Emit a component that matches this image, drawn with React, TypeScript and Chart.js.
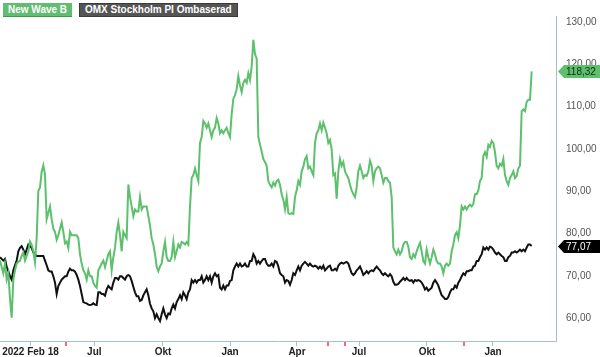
import React, { useEffect, useRef } from "react";
import { Chart, registerables } from "chart.js";

Chart.register(...registerables);

// Sample index along the time axis (each sample ~1.5 trading days)
const seriesNames = ["New Wave B", "OMX Stockholm PI Ombaserad"];

const newWaveB = [
  73.6, 72.1, 70.6, 72.9, 69.1, 70.6, 64.6, 60.1, 69.1, 71.3,
  72.9, 73.3, 73.6, 74.7, 75.5, 73.6, 74.7, 75.8, 78.1, 77.4,
  75.8, 73.2, 78.9, 90.1, 90.9, 94.6, 96.1, 93.9, 83.4, 84.9,
  86.4, 83.4, 81.1, 80.4, 78.5, 79.6, 81.1, 82.6, 80.4, 77.7,
  78.1, 76.6, 80.4, 79.6, 79.6, 79.6, 79.6, 78.9, 75.1, 72.9,
  71.3, 70.6, 69.1, 71.3, 69.9, 69.9, 68.4, 67.6, 67.2, 71.3,
  72.1, 72.9, 73.6, 72.1, 73.6, 75.1, 75.8, 71.3, 74.4, 76.6,
  80.4, 82.6, 79.6, 75.8, 80.4, 79.6, 78.9, 91.6, 88.6, 86.4,
  84.1, 85.7, 85.2, 85.2, 88.6, 85.7, 86.4, 86.4, 86.4, 84.1,
  81.9, 78.9, 77.4, 75.1, 72.2, 71.1, 72.2, 72.9, 75.8, 78.0,
  74.4, 73.5, 73.5, 74.4, 78.0, 74.4, 75.8, 77.4, 76.7, 78.0,
  77.8, 77.4, 78.0, 77.4, 86.4, 93.1, 93.8, 95.4, 93.8, 92.4,
  101.4, 102.8, 106.6, 106.0, 105.0, 106.0, 104.4, 102.8, 104.4, 105.0,
  107.3, 106.0, 103.7, 104.4, 103.7, 104.4, 105.0, 103.7, 102.8, 108.2,
  111.8, 112.7, 114.1, 117.2, 115.0, 113.4, 115.6, 116.3, 115.6, 117.9,
  116.3, 119.5, 125.8, 122.4, 121.3, 102.8, 101.0, 99.4, 97.6, 96.9,
  96.0, 92.4, 91.5, 90.9, 92.0, 91.3, 92.4, 92.7, 91.5, 89.3,
  88.0, 85.7, 88.6, 84.8, 84.6, 84.8, 84.6, 88.6, 90.2, 92.4,
  91.5, 94.7, 95.8, 97.6, 98.3, 95.4, 95.8, 94.7, 93.8, 101.4,
  103.7, 104.4, 106.0, 104.4, 106.2, 105.0, 103.7, 101.4, 102.1, 99.9,
  93.8, 94.2, 88.2, 94.7, 97.6, 96.0, 96.9, 94.7, 93.8, 93.1,
  91.5, 90.2, 89.3, 88.6, 90.9, 94.7, 96.0, 94.7, 93.1, 93.8,
  93.6, 94.7, 97.2, 96.0, 92.4, 94.7, 95.4, 95.8, 95.4, 93.8,
  92.0, 93.1, 93.1, 92.4, 92.0, 88.6, 76.7, 75.8, 75.1, 76.2,
  75.1, 75.8, 77.4, 78.0, 78.0, 76.9, 74.4, 74.0, 75.1, 74.4,
  75.8, 76.9, 77.8, 75.8, 73.5, 72.9, 76.2, 74.4, 72.9, 74.4,
  76.2, 75.1, 73.5, 72.9, 72.9, 72.2, 70.6, 72.4, 72.9, 72.4,
  72.9, 75.8, 77.4, 79.6, 80.3, 78.9, 81.9, 86.4, 85.7, 86.4,
  85.7, 86.4, 86.8, 86.4, 87.0, 89.3, 89.3, 90.2, 92.4, 93.1,
  98.3, 99.2, 98.1, 101.0, 100.5, 101.9, 101.4, 99.2, 96.0, 95.4,
  96.5, 96.0, 97.6, 93.8, 92.4, 91.5, 93.1, 93.8, 94.7, 93.1,
  93.6, 95.4, 96.0, 108.9, 109.3, 108.9, 111.1, 111.6, 111.6, 118.32,
];

const omxPI = [
  74.4, 74.0, 73.6, 74.0, 72.1, 71.1, 69.9, 69.1, 71.3, 72.5,
  73.6, 75.8, 76.6, 77.0, 76.2, 75.1, 76.2, 77.4, 77.0, 76.6,
  75.5, 75.1, 74.7, 74.7, 74.7, 74.7, 74.7, 73.6, 72.5, 71.3,
  71.0, 71.0, 69.9, 68.4, 65.7, 67.6, 68.4, 69.1, 69.5, 69.9,
  69.9, 71.0, 71.7, 71.3, 71.3, 71.0, 70.2, 69.1, 67.6, 65.7,
  63.8, 63.6, 63.5, 63.2, 63.1, 63.2, 63.5, 63.2, 63.1, 66.1,
  66.1, 65.7, 65.7, 65.3, 66.8, 67.6, 67.2, 66.8, 68.4, 69.5,
  69.5, 69.1, 69.9, 69.9, 69.5, 69.1, 69.9, 70.2, 69.9, 68.8,
  67.4, 66.1, 65.2, 65.2, 64.1, 64.3, 65.4, 66.1, 66.8, 65.4,
  63.4, 62.3, 61.6, 60.0, 60.9, 60.0, 59.3, 60.9, 62.3, 60.9,
  60.0, 61.1, 60.9, 62.3, 63.2, 62.3, 63.8, 64.5, 65.4, 64.5,
  66.1, 65.4, 64.5, 66.1, 66.8, 69.0, 68.4, 69.0, 68.4, 69.0,
  69.0, 69.9, 68.4, 69.0, 69.9, 69.0, 69.9, 68.4, 69.9, 70.6,
  69.9, 70.2, 67.2, 66.8, 67.7, 66.8, 67.7, 67.7, 68.8, 69.0,
  71.3, 72.2, 72.9, 72.2, 72.9, 72.2, 72.4, 72.9, 72.2, 72.2,
  73.5, 73.5, 75.1, 74.4, 72.9, 73.5, 72.9, 73.5, 74.0, 74.0,
  72.9, 72.4, 72.4, 72.9, 72.2, 73.5, 73.3, 72.2, 70.6, 70.2,
  69.9, 68.4, 69.0, 68.8, 67.9, 69.0, 70.6, 70.2, 71.3, 72.2,
  71.3, 72.4, 72.9, 73.3, 72.9, 72.4, 72.9, 72.4, 72.2, 72.4,
  72.2, 71.7, 72.2, 71.7, 72.4, 71.3, 71.7, 72.2, 72.4, 71.3,
  71.3, 71.7, 71.3, 72.4, 72.9, 73.1, 72.9, 73.1, 73.3, 72.9,
  71.7, 70.6, 70.2, 70.6, 71.3, 71.7, 72.2, 71.3, 70.2, 70.6,
  71.1, 70.6, 71.1, 71.3, 71.1, 71.7, 72.2, 71.7, 71.3, 70.6,
  70.2, 70.6, 70.2, 69.9, 70.4, 69.9, 68.6, 67.9, 67.9, 68.1,
  68.6, 69.0, 69.5, 69.0, 69.5, 69.0, 68.8, 69.0, 68.4, 69.0,
  68.8, 69.0, 68.8, 68.4, 67.7, 66.8, 67.2, 66.5, 66.8, 67.2,
  68.4, 69.0, 68.4, 67.7, 66.5, 65.4, 65.0, 64.5, 64.5, 65.0,
  66.1, 66.8, 66.8, 67.7, 67.2, 68.4, 69.0, 69.9, 70.6, 70.2,
  71.1, 71.1, 71.3, 71.3, 72.2, 72.4, 73.5, 73.5, 74.4, 75.1,
  76.7, 76.2, 76.7, 76.2, 76.9, 76.7, 76.2, 75.5, 75.1, 75.5,
  75.1, 74.7, 74.4, 73.5, 73.5, 74.4, 74.7, 75.5, 75.5, 75.8,
  75.5, 75.8, 76.2, 75.8, 76.2, 75.8, 76.7, 77.4, 77.4, 77.07,
];

// X-axis ticks (sample positions) and labels; empty label = event marker tick
const xTickPos = [18.3, 39.3, 56.6, 97.8, 138, 178.2, 196.8, 207, 215.4, 256.2, 278.4, 295.8];
const xTickLabels = ["2022 Feb 18", "", "Jul", "Okt", "Jan", "Apr", "", "", "Jul", "Okt", "", "Jan"];
const markerTicks = [39.3, 196.8, 207, 278.4];
const yTickValues = [60, 70, 80, 90, 100, 110, 120, 130];

const X_MAX = 333.6;
const Y_MIN = 54.6;
const Y_MAX = 131.4;

const GREEN = "#5cc06c";
const BLACK = "#111111";
const AXIS_BLUE = "#a3bfd0";
const MARKER_RED = "#f26b78";
const FONT = "Arial, 'Liberation Sans', sans-serif";

const fmt = (v: number) => v.toFixed(2).replace(".", ",");
const isMarker = (ctx: any) => !!ctx.tick && markerTicks.includes(ctx.tick.value);

const tagPlugin = {
  id: "lastTags",
  afterDraw(chart: any) {
    const ctx = chart.ctx;
    const yS = chart.scales.y;
    const right = chart.chartArea.right;
    const bgs = [GREEN, "#000000"];
    const fgs = ["#0f2a12", "#ffffff"];
    chart.data.datasets.forEach((ds: any, k: number) => {
      const last = ds.data[ds.data.length - 1].y;
      const y = Math.round(yS.getPixelForValue(last)) + 0.5;
      ctx.save();
      ctx.beginPath();
      ctx.moveTo(right + 2, y);
      ctx.lineTo(right + 8, y - 6.5);
      ctx.lineTo(chart.width, y - 6.5);
      ctx.lineTo(chart.width, y + 6.5);
      ctx.lineTo(right + 8, y + 6.5);
      ctx.closePath();
      ctx.fillStyle = bgs[k];
      ctx.fill();
      ctx.fillStyle = fgs[k];
      ctx.font = `10px ${FONT}`;
      ctx.textBaseline = "middle";
      ctx.textAlign = "left";
      ctx.fillText(fmt(last), right + 10, y + 0.5);
      ctx.restore();
    });
  },
};

export default function App() {
  const canvasRef = useRef<HTMLCanvasElement | null>(null);

  useEffect(() => {
    document.body.style.margin = "0";
    const canvas = canvasRef.current;
    if (!canvas) return;
    const chart = new Chart(canvas, {
      type: "line",
      data: {
        datasets: [
          {
            label: seriesNames[0],
            data: newWaveB.map((v, i) => ({ x: i, y: v })),
            borderColor: GREEN,
            borderWidth: 2,
            pointRadius: 0,
            tension: 0,
          },
          {
            label: seriesNames[1],
            data: omxPI.map((v, i) => ({ x: i, y: v })),
            borderColor: BLACK,
            borderWidth: 2,
            pointRadius: 0,
            tension: 0,
          },
        ],
      },
      options: {
        responsive: false,
        animation: false,
        devicePixelRatio: 1,
        layout: { padding: 0 },
        plugins: {
          legend: { display: false },
          tooltip: { enabled: false },
        },
        scales: {
          x: {
            type: "linear",
            min: 0,
            max: X_MAX,
            afterBuildTicks: (axis: any) => {
              axis.ticks = xTickPos.map((v) => ({ value: v }));
            },
            afterFit: (axis: any) => {
              axis.height = 16;
            },
            border: { display: true, color: AXIS_BLUE, width: 1 },
            grid: {
              drawOnChartArea: false,
              drawTicks: true,
              tickLength: 5,
              color: (ctx: any) => (isMarker(ctx) ? MARKER_RED : AXIS_BLUE),
              lineWidth: (ctx: any) => (isMarker(ctx) ? 2 : 1),
            },
            ticks: {
              autoSkip: false,
              maxRotation: 0,
              padding: 0,
              color: "#222222",
              font: { family: FONT, size: 10, weight: "bold" },
              callback: (value: any) => {
                const idx = xTickPos.indexOf(value);
                return idx >= 0 ? xTickLabels[idx] : "";
              },
            },
          },
          y: {
            type: "linear",
            position: "right",
            min: Y_MIN,
            max: Y_MAX,
            afterBuildTicks: (axis: any) => {
              axis.ticks = yTickValues.map((v) => ({ value: v }));
            },
            afterFit: (axis: any) => {
              axis.width = 44;
            },
            border: { display: true, color: AXIS_BLUE, width: 1 },
            grid: { display: false, drawTicks: false },
            ticks: {
              padding: 10,
              color: "#555555",
              font: { family: FONT, size: 10 },
              callback: (value: any) => fmt(Number(value)),
            },
          },
        },
      },
      plugins: [tagPlugin],
    });
    return () => chart.destroy();
  }, []);

  const boxBase: React.CSSProperties = {
    position: "absolute",
    top: 3,
    height: 14,
    lineHeight: "14px",
    padding: "0 5px",
    color: "#ffffff",
    fontFamily: FONT,
    fontWeight: "bold",
    fontSize: 10,
    whiteSpace: "nowrap",
    boxSizing: "border-box",
  };

  return (
    <div style={{ position: "relative", width: 600, height: 357, background: "#ffffff" }}>
      <canvas ref={canvasRef} width={600} height={357} style={{ display: "block", width: 600, height: 357 }} />
      <div style={{ ...boxBase, left: 3, background: "#62bd72", borderBottom: "1px solid #3f9a50" }}>
        {seriesNames[0]}
      </div>
      <div style={{ ...boxBase, left: 79, background: "#555555", border: "1px solid #3a3a3a", lineHeight: "12px" }}>
        {seriesNames[1]}
      </div>
    </div>
  );
}
